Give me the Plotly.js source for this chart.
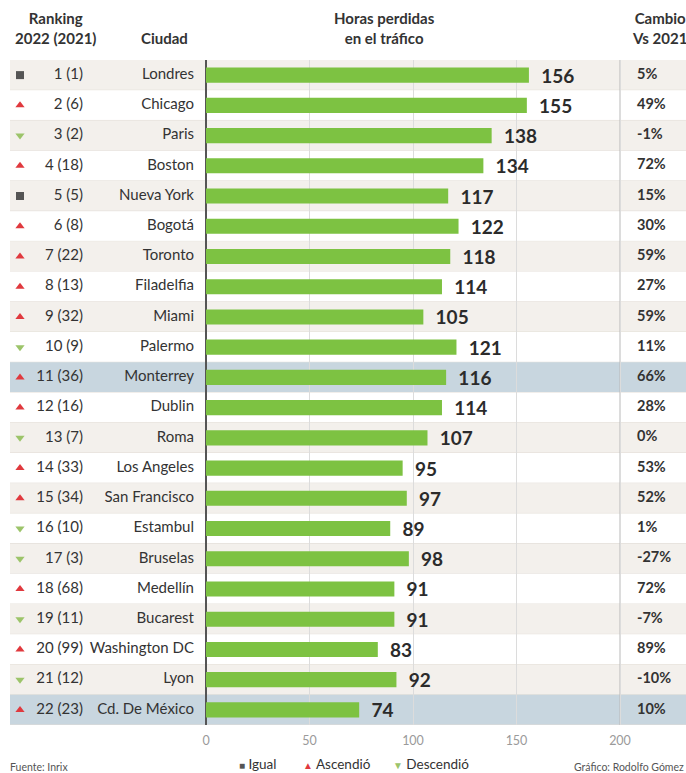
<!DOCTYPE html>
<html>
<head>
<meta charset="utf-8">
<script src="https://cdn.plot.ly/plotly-3.0.1.min.js"></script>
<style>html,body{margin:0;padding:0;background:#fff;}#chart{width:686px;height:773px;}</style>
</head>
<body>
<div id="chart"></div>
<script>
const ranks = ["1 (1)","2 (6)","3 (2)","4 (18)","5 (5)","6 (8)","7 (22)","8 (13)","9 (32)","10 (9)","11 (36)","12 (16)","13 (7)","14 (33)","15 (34)","16 (10)","17 (3)","18 (68)","19 (11)","20 (99)","21 (12)","22 (23)"];
const cities = ["Londres","Chicago","Paris","Boston","Nueva York","Bogotá","Toronto","Filadelfia","Miami","Palermo","Monterrey","Dublin","Roma","Los Angeles","San Francisco","Estambul","Bruselas","Medellín","Bucarest","Washington DC","Lyon","Cd. De México"];
const hours = [156,155,138,134,117,122,118,114,105,121,116,114,107,95,97,89,98,91,91,83,92,74];
const changes = ["5%","49%","-1%","72%","15%","30%","59%","27%","59%","11%","66%","28%","0%","53%","52%","1%","-27%","72%","-7%","89%","-10%","10%"];
const trends = ["Igual","Ascendió","Descendió","Ascendió","Igual","Ascendió","Ascendió","Ascendió","Ascendió","Descendió","Ascendió","Ascendió","Descendió","Ascendió","Ascendió","Descendió","Descendió","Ascendió","Descendió","Ascendió","Descendió","Ascendió"];
const trendNames = ["Igual","Ascendió","Descendió"];
const highlighted = ["Monterrey","Cd. De México"];
const ticks = [0,50,100,150,200];

const FONT = "Lato, 'Open Sans', sans-serif";
const W = 686, H = 773, L = 0, R = 0, T = 60, B = 48;
// axis range so that 0 sits at x=206px and 200 at x=620px
const pxPerUnit = (620 - 206) / 200;
const xmin = -206 / pxPerUnit, xmax = (W - 206) / pxPerUnit;
const xAt = px => (px - 206) / pxPerUnit;

const trendStyle = {
  "Igual": {symbol: "square", color: "#555555", glyph: "■", size: 10},
  "Ascendió": {symbol: "triangle-up", color: "#e0393e", glyph: "▲", size: 10},
  "Descendió": {symbol: "triangle-down", color: "#9cc46a", glyph: "▼", size: 10}
};

const traces = [];
traces.push({
  type: "bar", orientation: "h", x: hours, y: cities, width: 0.5,
  marker: {color: "#7dc242", line: {width: 0}},
  text: hours.map(String), texttemplate: "\u00a0\u00a0%{text}", textposition: "outside",
  constraintext: "none",
  textfont: {family: FONT, size: 19, color: "#2b2b2b", weight: 700},
  cliponaxis: false, hoverinfo: "none", showlegend: false
});
traces.push({
  type: "scatter", mode: "text", x: cities.map(() => xAt(83)), y: cities, text: ranks,
  textposition: "middle left", textfont: {family: FONT, size: 15, color: "#333"},
  hoverinfo: "none", showlegend: false, cliponaxis: false
});
traces.push({
  type: "scatter", mode: "text", x: cities.map(() => xAt(194)), y: cities, text: cities,
  textposition: "middle left", textfont: {family: FONT, size: 15, color: "#333"},
  hoverinfo: "none", showlegend: false, cliponaxis: false
});
traces.push({
  type: "scatter", mode: "text", x: cities.map(() => xAt(637)), y: cities, text: changes,
  textposition: "middle right", textfont: {family: FONT, size: 14.5, color: "#333", weight: 700},
  hoverinfo: "none", showlegend: false, cliponaxis: false
});
trendNames.forEach(t => {
  const ys = cities.filter((c, i) => trends[i] === t);
  traces.push({
    type: "scatter", mode: "markers", name: t, x: ys.map(() => xAt(20)), y: ys,
    marker: {symbol: trendStyle[t].symbol, color: trendStyle[t].color, size: 8},
    hoverinfo: "none", showlegend: false, cliponaxis: false
  });
});

const shapes = [];
cities.forEach((c, i) => {
  let fill = (i % 2 === 0) ? "#f3f0ec" : "#ffffff";
  if (highlighted.includes(c)) fill = "#c8d6df";
  shapes.push({type: "rect", xref: "paper", yref: "y", x0: 10 / W, x1: 1, y0: i - 0.5, y1: i + 0.5,
    fillcolor: fill, line: {width: 0}, layer: "below"});
  shapes.push({type: "line", xref: "paper", yref: "y", x0: 10 / W, x1: 1, y0: i + 0.5, y1: i + 0.5,
    line: {color: "#e2ddd6", width: 1}, layer: "below"});
});
shapes.push({type: "line", xref: "x", yref: "paper", x0: 200, x1: 200, y0: 0, y1: 1,
  line: {color: "#b8b8b8", width: 1}, layer: "between"});

const py = px => (H - B - px) / (H - T - B);
const hdr = {family: FONT, size: 15, color: "#333", weight: 700};
const annotations = [
  {text: "Ranking<br>2022 (2021)", x: 56 / W, y: py(28), xref: "paper", yref: "paper", showarrow: false, font: hdr, xanchor: "center", yanchor: "middle"},
  {text: "Ciudad", x: 164 / W, y: py(38), xref: "paper", yref: "paper", showarrow: false, font: hdr, xanchor: "center", yanchor: "middle"},
  {text: "Horas perdidas<br>en el tráfico", x: 384 / W, y: py(28), xref: "paper", yref: "paper", showarrow: false, font: hdr, xanchor: "center", yanchor: "middle"},
  {text: "Cambio<br>Vs 2021", x: 659 / W, y: py(28), xref: "paper", yref: "paper", showarrow: false, font: hdr, xanchor: "center", yanchor: "middle"},
  {text: "Fuente: Inrix", x: 8 / W, y: py(767), xref: "paper", yref: "paper", showarrow: false, font: {family: FONT, size: 10.5, color: "#555"}, xanchor: "left", yanchor: "middle"},
  {text: "Gráfico: Rodolfo Gómez", x: 572 / W, y: py(767), xref: "paper", yref: "paper", showarrow: false, font: {family: FONT, size: 10.5, color: "#555"}, xanchor: "left", yanchor: "middle"}
];
// legend entries (drawn as text, positions in px)
const legendX = {"Igual": 237, "Ascendió": 301, "Descendió": 391};
trendNames.forEach(t => {
  const s = trendStyle[t];
  annotations.push({
    text: '<span style="color:' + s.color + ';font-size:' + s.size + 'px">' + s.glyph + '</span> ' + t,
    x: legendX[t] / W, y: py(764), xref: "paper", yref: "paper", showarrow: false,
    font: {family: FONT, size: 13.5, color: "#333"}, xanchor: "left", yanchor: "middle"
  });
});

const layout = {
  width: W, height: H, margin: {l: L, r: R, t: T, b: B},
  paper_bgcolor: "#ffffff", plot_bgcolor: "#ffffff",
  font: {family: FONT, color: "#333"},
  xaxis: {range: [xmin, xmax], tickvals: ticks, ticktext: ticks.map(String), showgrid: true, gridcolor: "#dcdcdc",
    zeroline: true, zerolinecolor: "#555", zerolinewidth: 1.5, showline: false, ticks: "",
    ticklabelstandoff: 6,
    tickfont: {family: FONT, size: 12.5, color: "#9a9a9a"}, fixedrange: true},
  yaxis: {type: "category", categoryorder: "array", categoryarray: cities, range: [21.5, -0.5],
    showticklabels: false, showgrid: false, zeroline: false, ticks: "", fixedrange: true},
  showlegend: false,
  shapes: shapes, annotations: annotations, bargap: 0.5
};

Plotly.newPlot("chart", traces, layout, {displayModeBar: false, staticPlot: true});
</script>
</body>
</html>
